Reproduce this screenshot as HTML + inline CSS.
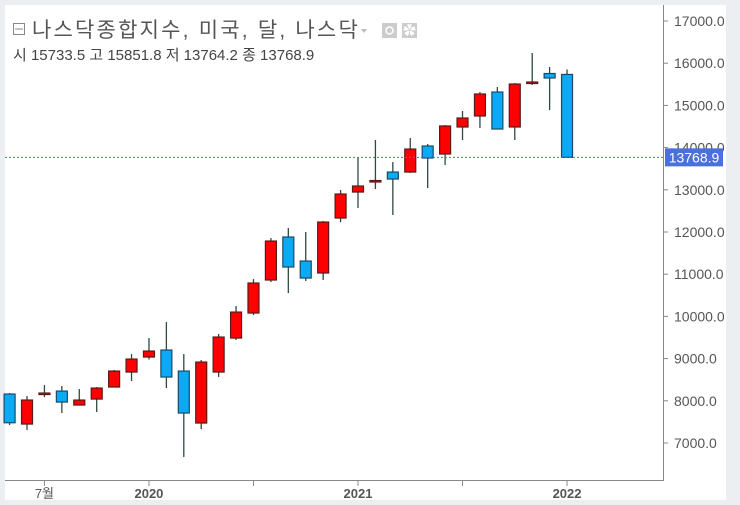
<!DOCTYPE html>
<html><head><meta charset="utf-8">
<style>
body{margin:0;width:740px;height:505px;overflow:hidden;background:#fff;font-family:"Liberation Sans","Noto Sans CJK KR",sans-serif;}
svg{display:block}
</style></head>
<body>
<svg id="chart" width="740" height="505" xmlns="http://www.w3.org/2000/svg">
  <rect x="0" y="0" width="740" height="505" fill="#fff"/>
  <rect x="0" y="0" width="740" height="5" fill="#eceef2"/>
  <rect x="0" y="0" width="5" height="505" fill="#eceef2"/>
  <rect x="726" y="0" width="14" height="505" fill="#eceef2"/>
  <rect x="0" y="500" width="740" height="5" fill="#eceef2"/>
  <line x1="663.5" y1="5" x2="663.5" y2="481" stroke="#888"/>
  <line x1="5" y1="480.5" x2="663" y2="480.5" stroke="#888"/>
  <g id="yticks"></g>
  <g id="xticks"></g>
  <g id="candles"></g>
  <g id="last"></g>
  <g>
    <rect x="13.5" y="23.5" width="11" height="11" fill="none" stroke="#888"/>
    <line x1="15" y1="29" x2="23" y2="29" stroke="#888"/>
    <text x="32" y="37" font-size="21" letter-spacing="2.2" fill="#555">나스닥종합지수, 미국, 달, 나스닥</text>
    <path d="M361 29 l6 0 l-3 4z" fill="#bbb"/>
    <rect x="382" y="23" width="15" height="15" fill="#ccc"/>
    <circle cx="389.5" cy="30.5" r="3.5" fill="none" stroke="#fff" stroke-width="1.5"/>
    <rect x="402" y="23" width="15" height="15" fill="#ccc"/>
    <text x="409.5" y="35" font-size="13" fill="#fff" text-anchor="middle">✿</text>
    <text x="13" y="60" font-size="15" fill="#444">시 15733.5  고 15851.8  저 13764.2  종 13768.9</text>
  </g>
</svg>
<script>
const opens=[8160,7449,8160,8231,7899,8041,8326,8681,9037,9203,8705,7473,8681,9487,10080,10862,11881,11312,11028,12331,12947,13208,13421,13421,14038,13848,14488,14749,15317,14488,15542,15756,15733.5];
const highs=[8184,8112,8373,8350,8278,8326,8729,9108,9487,9866,9108,8966,9582,10246,10885,11857,12094,12000,12260,12995,13753,14180,13658,14227,14085,14535,14867,15317,15436,15530,16242,15910,15851.8];
const lows=[7425,7307,8089,7710,7890,7733,8320,8468,8980,8302,6667,7330,8563,9440,10032,10814,10554,10838,10862,12236,12568,13018,12402,13400,13042,13587,14180,14464,14440,14180,15483,14890,13764.2];
const closes=[7480,8018,8184,7970,8018,8302,8705,8989,9179,8563,7710,8918,9511,10103,10791,11786,11170,10909,12236,12900,13090,13220,13255,13966,13753,14512,14701,15270,14440,15507,15554,15649,13768.9];
const yTicks=[7000,8000,9000,10000,11000,12000,13000,14000,15000,16000,17000];
const xTickIdx=[2,8,14,20,26,32];
const xTickLabels=["7월","2020","","2021","","2022"];
const lastPrice=13768.9;
const NS="http://www.w3.org/2000/svg";
function y(v){return 21+(17000-v)*0.0422;}
function x(i){return 358+(i-20)*17.42;}
function el(tag,attrs,parent){const e=document.createElementNS(NS,tag);for(const k in attrs)e.setAttribute(k,attrs[k]);parent.appendChild(e);return e;}
const yg=document.getElementById('yticks');
yTicks.forEach(v=>{
  const t=el('line',{x1:663,x2:668,y1:y(v),y2:y(v),stroke:'#888'},yg);
  
  
  const tx=el('text',{x:674,y:y(v)+5,'font-size':14,fill:'#555'},yg);
  tx.textContent=v.toFixed(1);
  
  
});
const xg=document.getElementById('xticks');
xTickIdx.forEach((i,k)=>{
  const t=el('line',{x1:x(i),x2:x(i),y1:481,y2:486,stroke:'#888'},xg);
  
  
  if(xTickLabels[k]){
    const tx=el('text',{x:x(i),y:498,'font-size':13,fill:'#555','text-anchor':'middle','font-weight':xTickLabels[k].length===4?'bold':'normal'},xg);
    tx.textContent=xTickLabels[k];
    
    
  }
});
const cg=document.getElementById('candles');
opens.forEach((o,i)=>{
  const c=closes[i],cx=x(i),up=c>=o;
  const g=el('g',{},cg);
  
  
  el('line',{x1:cx,x2:cx,y1:y(highs[i]),y2:y(lows[i]),stroke:'#2f4a40','stroke-width':1.3},g);
  const top=y(Math.max(o,c)),bot=y(Math.min(o,c));
  el('rect',{x:cx-5.5,y:top,width:11,height:Math.max(bot-top,1.5),fill:up?'#f00':'#0aaaf5',stroke:up?'#5a1a1a':'#1b4a66','stroke-width':1.2},g);
});
const lg=document.getElementById('last');
const ly=y(lastPrice);
const ln=el('line',{x1:5,x2:663,y1:ly,y2:ly,stroke:'#4a6fd9','stroke-dasharray':'2,2'},lg);


const lb=el('rect',{x:665,y:ly-9,width:58,height:18,fill:'#4a70dc'},lg);


const lt=el('text',{x:694,y:ly+5,'font-size':14,fill:'#fff','text-anchor':'middle'},lg);
lt.textContent=lastPrice.toFixed(1);


</script>
</body></html>
